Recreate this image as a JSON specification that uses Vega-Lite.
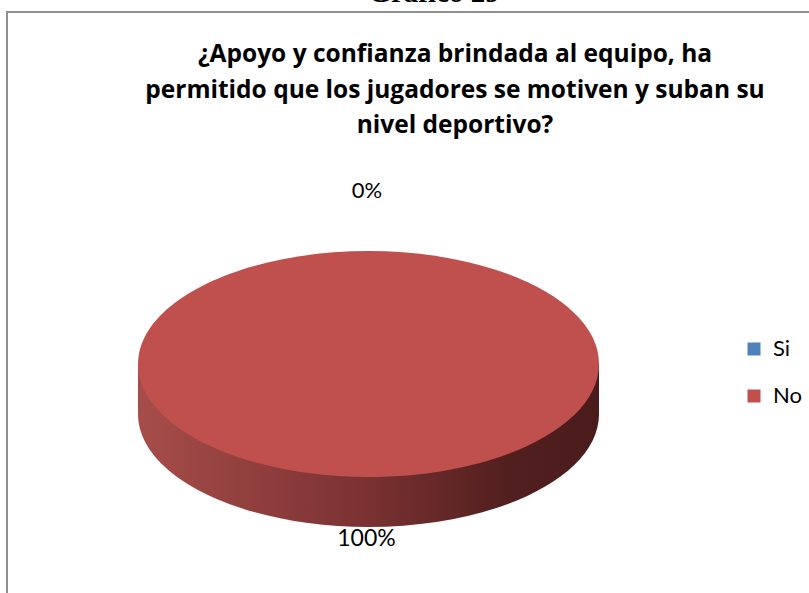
{
  "$schema": "https://vega.github.io/schema/vega-lite/v6.json",
  "width": 810,
  "height": 600,
  "autosize": {"type": "none"},
  "padding": {"left": 7, "top": 12, "right": 0, "bottom": 0},
  "background": "white",
  "view": {"stroke": "#8f8f8f", "strokeWidth": 2, "fill": "white"},
  "config": {
    "view": {"stroke": "#8f8f8f", "strokeWidth": 2},
    "font": "Lato"
  },
  "data": {
    "values": [
      {"respuesta": "Si", "porcentaje": 0, "etiqueta": "0%"},
      {"respuesta": "No", "porcentaje": 100, "etiqueta": "100%"}
    ]
  },
  "layer": [
    {
      "transform": [{"filter": "datum.porcentaje > 0"}],
      "mark": {
        "type": "point",
        "shape": "M -1 0 L -1 0.217 C -1 0.4876 -0.5523 0.707 0 0.707 C 0.5523 0.707 1 0.4876 1 0.217 L 1 0 Z",
        "size": 212521,
        "filled": true,
        "opacity": 1,
        "strokeWidth": 0,
        "xOffset": -43.5,
        "yOffset": 52,
        "fill": {
          "gradient": "linear",
          "x1": 0, "y1": 0, "x2": 1, "y2": 0,
          "stops": [
            {"offset": 0, "color": "#a64d4a"},
            {"offset": 0.5, "color": "#7a3131"},
            {"offset": 0.8, "color": "#521f1f"},
            {"offset": 1, "color": "#4b1b1b"}
          ]
        }
      },
      "encoding": {}
    },
    {
      "transform": [{"filter": "datum.porcentaje > 0"}],
      "mark": {
        "type": "point",
        "shape": "M -1 0 C -1 -0.2706 -0.5523 -0.49 0 -0.49 C 0.5523 -0.49 1 -0.2706 1 0 C 1 0.2706 0.5523 0.49 0 0.49 C -0.5523 0.49 -1 0.2706 -1 0 Z",
        "size": 212521,
        "filled": true,
        "opacity": 1,
        "strokeWidth": 0,
        "xOffset": -43.5,
        "yOffset": 52
      },
      "encoding": {
        "color": {
          "field": "respuesta",
          "type": "nominal",
          "scale": {"domain": ["Si", "No"], "range": ["#4f81bd", "#c0504d"]},
          "legend": {
            "title": null,
            "orient": "none",
            "legendX": 736,
            "legendY": 326,
            "symbolType": "square",
            "symbolSize": 169,
            "symbolOpacity": 1,
            "symbolStrokeWidth": 0,
            "labelFontSize": 22,
            "labelFont": "Lato",
            "labelColor": "#000000",
            "labelOffset": 8,
            "rowPadding": 25
          }
        }
      }
    },
    {
      "transform": [{"filter": "datum.respuesta == 'Si'"}],
      "mark": {"type": "text", "fontSize": 22, "font": "Lato", "color": "#000000", "baseline": "alphabetic", "align": "center", "dx": -45, "dy": -114},
      "encoding": {"text": {"field": "etiqueta", "type": "nominal"}}
    },
    {
      "transform": [{"filter": "datum.respuesta == 'No'"}],
      "mark": {"type": "text", "fontSize": 23, "font": "Lato", "color": "#000000", "baseline": "alphabetic", "align": "center", "dx": -45.5, "dy": 234},
      "encoding": {"text": {"field": "etiqueta", "type": "nominal"}}
    },
    {
      "data": {"values": [{"titulo": "¿Apoyo y confianza brindada al equipo, ha\npermitido que los jugadores se motiven y suban su\nnivel deportivo?"}]},
      "mark": {"type": "text", "fontSize": 24.5, "font": "Open Sans", "fontWeight": "bold", "color": "#000000", "baseline": "alphabetic", "align": "center", "lineBreak": "\n", "lineHeight": 35.5, "dx": 43, "dy": -250},
      "encoding": {"text": {"field": "titulo", "type": "nominal"}}
    },
    {
      "data": {"values": [{"encabezado": "Gráfico 29"}]},
      "mark": {"type": "text", "fontSize": 29, "font": "Liberation Serif", "fontWeight": "bold", "color": "#000000", "baseline": "alphabetic", "align": "center", "dx": 22, "dy": -310},
      "encoding": {"text": {"field": "encabezado", "type": "nominal"}}
    }
  ]
}
